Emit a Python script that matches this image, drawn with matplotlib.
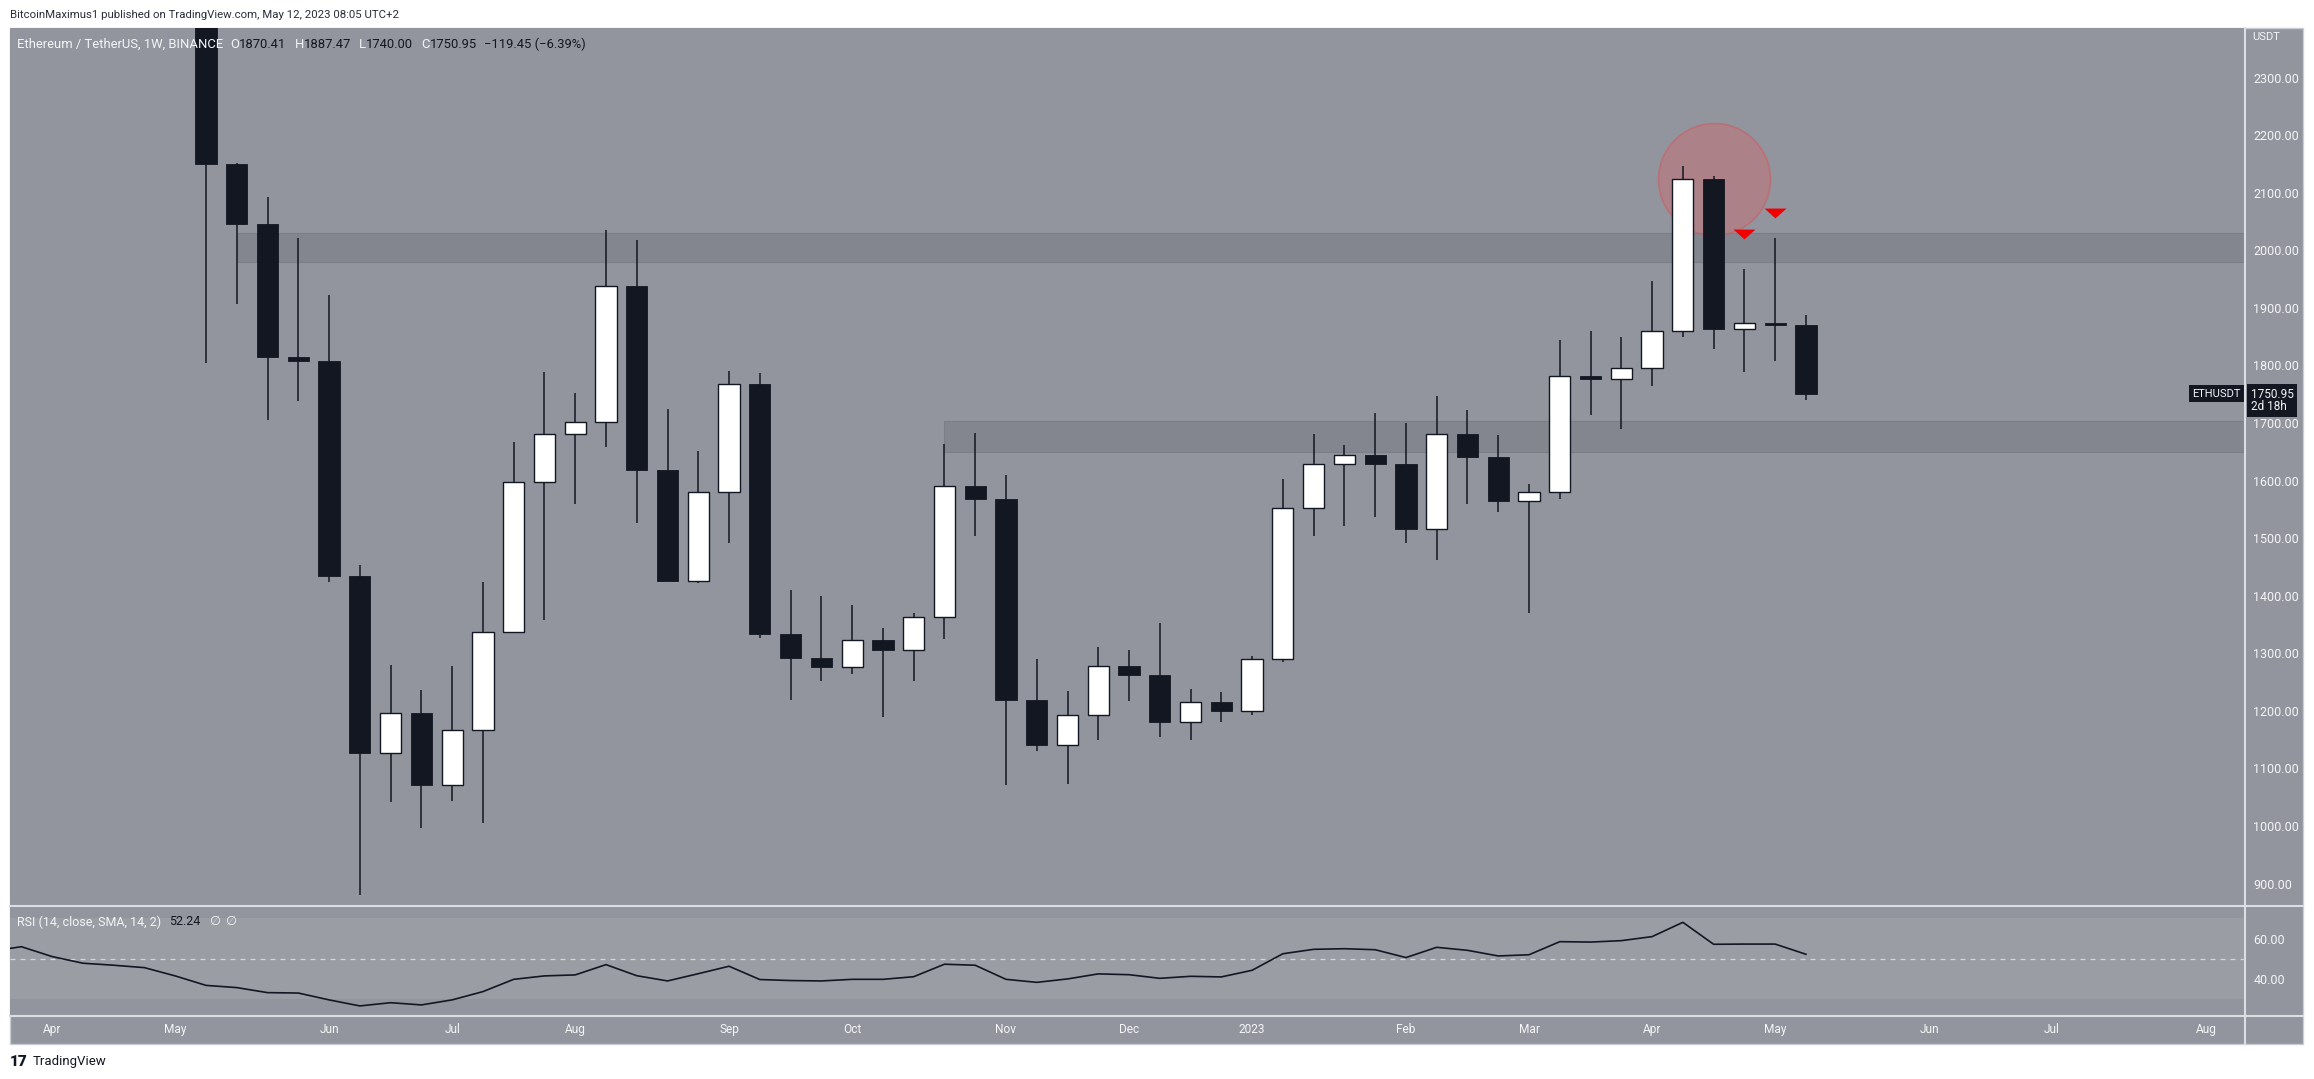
import numpy as np
import pandas as pd
import matplotlib
matplotlib.use("Agg")
import matplotlib.pyplot as plt
from matplotlib.lines import Line2D
from matplotlib.patches import Rectangle

# ============================================
# data: ETH/USDT weekly candles (Binance), first candle = week of 2022-05-09
# ============================================
first_week = "2022-05-09"
opens = [2520, 2149, 2045, 1814, 1808, 1435, 1126, 1197, 1072, 1167,
         1337, 1598, 1680, 1701, 1938, 1619, 1426, 1580, 1768, 1333,
         1292, 1276, 1323, 1305, 1363, 1590, 1568, 1219, 1140, 1192,
         1278, 1262, 1181, 1216, 1199, 1290, 1552, 1628, 1644, 1629,
         1515, 1680, 1641, 1564, 1580, 1782, 1776, 1796, 1860, 2123,
         1864, 1873, 1870.41]
highs = [2560, 2152, 2092, 2021, 1922, 1454, 1280, 1237, 1277, 1423,
         1667, 1788, 1752, 2035, 2017, 1725, 1651, 1791, 1786, 1409,
         1400, 1384, 1343, 1370, 1664, 1683, 1609, 1290, 1234, 1310,
         1305, 1353, 1238, 1232, 1296, 1602, 1681, 1661, 1717, 1700,
         1746, 1722, 1679, 1594, 1844, 1859, 1850, 1947, 2146, 2129,
         1967, 2022, 1887.47]
lows = [1804, 1907, 1706, 1739, 1423, 880, 1042, 997, 1043, 1005,
        1335, 1358, 1560, 1658, 1526, 1425, 1422, 1492, 1326, 1219,
        1252, 1264, 1190, 1252, 1325, 1504, 1071, 1130, 1073, 1150,
        1217, 1155, 1149, 1181, 1192, 1285, 1503, 1521, 1537, 1491,
        1462, 1559, 1546, 1370, 1568, 1713, 1689, 1765, 1850, 1829,
        1788, 1808, 1740.00]
closes = [2149, 2045, 1814, 1807, 1435, 1126, 1197, 1072, 1167, 1337,
          1598, 1680, 1701, 1938, 1619, 1426, 1580, 1768, 1333, 1292,
          1276, 1323, 1305, 1363, 1590, 1568, 1219, 1140, 1192, 1278,
          1262, 1181, 1216, 1199, 1290, 1552, 1628, 1644, 1629, 1515,
          1680, 1641, 1564, 1580, 1782, 1776, 1796, 1860, 2123, 1864,
          1873, 1870.41, 1750.95]
change_text = "\u2212119.45 (\u22126.39%)"

# RSI(14) values, first value is 7 weeks before the first candle
rsi_start = -7
rsi = [53.7, 56.0, 51.1, 47.8, 46.8, 45.6, 41.5, 36.8, 35.7, 33.2,
       33.0, 29.6, 26.6, 28.2, 27.1, 29.6, 33.7, 39.8, 41.5, 42.0,
       47.1, 41.6, 39.0, 42.6, 46.3, 39.7, 39.2, 39.0, 39.8, 39.8,
       41.1, 47.3, 46.8, 39.8, 38.3, 40.0, 42.5, 42.1, 40.3, 41.3,
       41.0, 44.3, 52.5, 54.7, 55.0, 54.5, 50.6, 55.7, 54.2, 51.4,
       52.0, 58.5, 58.3, 59.0, 61.0, 68.1, 57.2, 57.3, 57.3, 52.24]

# horizontal zones (start candle, low, high)
zone_start = [1, 24]
zone_low = [1979, 1650]
zone_high = [2030, 1703]

# annotations
signal_idx = [50, 51]
signal_price = [2029, 2064]
circle_idx = [49]
circle_price = [2124]

price_ticks = list(range(900, 2400, 100))
rsi_ticks = [40, 60]
month_labels = ["Apr", "May", "Jun", "Jul", "Aug", "Sep", "Oct", "Nov", "Dec",
                "2023", "Feb", "Mar", "Apr", "May", "Jun", "Jul", "Aug"]

# ============================================
# style
# ============================================
W, H, DPI = 2314, 1079, 100
BG = "#93959e"
ZONE = "#83868f"
RSI_BAND = "#9b9da5"
DARK = "#131722"
TXT = "#f4f5f7"
SEP = "#dcdee4"

plt.rcParams['font.family'] = ['Roboto', 'DejaVu Sans']

def rect(x0, y0, x1, y1):
    # pixel box (top-left origin) -> figure fraction
    return [x0 / W, 1 - y1 / H, (x1 - x0) / W, (y1 - y0) / H]

fig = plt.figure(figsize=(W / DPI, H / DPI), dpi=DPI, facecolor="white")
fig.add_artist(Rectangle((10 / W, 1 - 1044 / H), 2293 / W, 1016 / H,
                         transform=fig.transFigure, fc=BG, ec="#c9ccd3", lw=1, zorder=0))

xlim = (-6.37, 66.27)

# ============================================
# price pane
# ============================================
ax = fig.add_axes(rect(10, 28, 2245, 906))
ax.set_facecolor(BG)
for s in ax.spines.values():
    s.set_visible(False)
ax.set_xlim(*xlim)
ax.set_ylim(861, 2386)

x = np.arange(len(closes))
o = np.array(opens)
c = np.array(closes)
up = c >= o
bottom = np.minimum(o, c)
height = np.maximum(np.abs(c - o), 1.5)

for s0, lo, hi in zip(zone_start, zone_low, zone_high):
    ax.fill_between([s0, xlim[1]], lo, hi, color=ZONE, lw=0.8, edgecolor="#7b7e87", zorder=1)

ax.scatter(circle_idx, circle_price, s=6500, fc=(0.84, 0.38, 0.40, 0.38),
           ec=(0.80, 0.36, 0.38, 0.55), lw=1.2, zorder=2)

ax.vlines(x, lows, highs, color=DARK, lw=1.1, zorder=3)
ax.bar(x[up], height[up], bottom=bottom[up], width=0.69, color="white",
       edgecolor=DARK, linewidth=1.0, zorder=4)
ax.bar(x[~up], height[~up], bottom=bottom[~up], width=0.69, color=DARK,
       edgecolor=DARK, linewidth=0.6, zorder=4)

tri = [(-1, 0.45), (1, 0.45), (0, -0.45)]
ax.scatter(signal_idx, signal_price, marker=tri, s=250, color="#f20000", lw=0, zorder=5)

ax.yaxis.tick_right()
ax.set_yticks(price_ticks)
ax.set_yticklabels([f"{v:.2f}" for v in price_ticks])
ax.tick_params(axis="y", length=0, pad=6, labelsize=9, labelcolor=TXT)
ax.set_xticks([])

# last price tags
last = closes[-1]
ax.annotate("ETHUSDT", xy=(1, last), xycoords=("axes fraction", "data"),
            xytext=(-3, 0), textcoords="offset points", ha="right", va="center",
            fontsize=8, color=TXT, annotation_clip=False, zorder=8,
            bbox=dict(boxstyle="square,pad=0.3", fc=DARK, ec="none"))
ax.annotate(f"{last:.2f}\n2d 18h", xy=(1, last), xycoords=("axes fraction", "data"),
            xytext=(4, -5), textcoords="offset points", ha="left", va="center",
            fontsize=8.5, linespacing=0.95, color=TXT, annotation_clip=False, zorder=8,
            bbox=dict(boxstyle="square,pad=0.3", fc=DARK, ec="none"))

# legend line
def chain(axis, parts, offset, size):
    prev = None
    for text, col, gap in parts:
        if prev is None:
            prev = axis.annotate(text, xy=(0, 1), xycoords="axes fraction", xytext=offset,
                                 textcoords="offset points", ha="left", va="center",
                                 color=col, fontsize=size, zorder=10)
        else:
            prev = axis.annotate(text, xy=(1, 0.5), xycoords=prev, xytext=(gap, 0),
                                 textcoords="offset points", ha="left", va="center",
                                 color=col, fontsize=size, zorder=10)

chain(ax, [("Ethereum / TetherUS, 1W, BINANCE", TXT, 0),
           ("O", TXT, 5), (f"{opens[-1]:.2f}", DARK, 0),
           ("H", TXT, 6), (f"{highs[-1]:.2f}", DARK, 0),
           ("L", TXT, 6), (f"{lows[-1]:.2f}", DARK, 0),
           ("C", TXT, 6), (f"{closes[-1]:.2f}", DARK, 0),
           (change_text, DARK, 5)],
      (5, -12), 9.4)

# ============================================
# RSI pane
# ============================================
rx = fig.add_axes(rect(10, 906, 2245, 1016))
rx.set_facecolor(BG)
for s in rx.spines.values():
    s.set_visible(False)
rx.set_xlim(*xlim)
rx.set_ylim(21.6, 76.2)
rx.axhspan(30, 70, color=RSI_BAND, lw=0, zorder=1)
rx.axhline(50, color="#d3d5db", lw=0.9, dashes=(4, 4), zorder=2)
rsi_x = np.arange(rsi_start, rsi_start + len(rsi))
rx.plot(rsi_x, rsi, color=DARK, lw=1.2, zorder=3)

rx.yaxis.tick_right()
rx.set_yticks(rsi_ticks)
rx.set_yticklabels([f"{v:.2f}" for v in rsi_ticks])
rx.tick_params(axis="y", length=0, pad=6, labelsize=9, labelcolor=TXT)

weeks = pd.date_range(pd.Timestamp(first_week) + pd.Timedelta(weeks=rsi_start),
                      periods=74, freq="W-MON")
week_idx = np.arange(rsi_start, rsi_start + len(weeks))
new_month = np.r_[False, weeks.month[1:] != weeks.month[:-1]]
month_pos = week_idx[new_month][:len(month_labels)]
rx.set_xticks(month_pos)
rx.set_xticklabels(month_labels)
rx.tick_params(axis="x", length=0, pad=5, labelsize=8.6, labelcolor=TXT)

chain(rx, [("RSI (14, close, SMA, 14, 2)", TXT, 0),
           (f"{rsi[-1]:.2f}", DARK, 6),
           ("\u2205", TXT, 6), ("\u2205", TXT, 4)],
      (5, -11.5), 9)

# ============================================
# frame lines and outside text
# ============================================
for y in (906, 1016):
    fig.add_artist(Line2D([10 / W, 2303 / W], [1 - y / H] * 2, transform=fig.transFigure,
                          color=SEP, lw=1.5, zorder=20))
fig.add_artist(Line2D([2245 / W] * 2, [1 - 28 / H, 1 - 1044 / H], transform=fig.transFigure,
                      color=SEP, lw=1.5, zorder=20))

fig.text(2252 / W, 1 - 37 / H, "USDT", fontsize=8, color=TXT, va="center", ha="left")
fig.text(10 / W, 1 - 15 / H, "BitcoinMaximus1 published on TradingView.com, May 12, 2023 08:05 UTC+2",
         fontsize=8.2, color="#2a2e39", va="center", ha="left")
fig.text(10 / W, 1 - 1062 / H, "17", fontsize=11, fontweight="heavy", color=DARK,
         va="center", ha="left")
fig.text(33 / W, 1 - 1062 / H, "TradingView", fontsize=9.5, color=DARK, va="center", ha="left")

fig.savefig("out.png", dpi=DPI, facecolor="white")
